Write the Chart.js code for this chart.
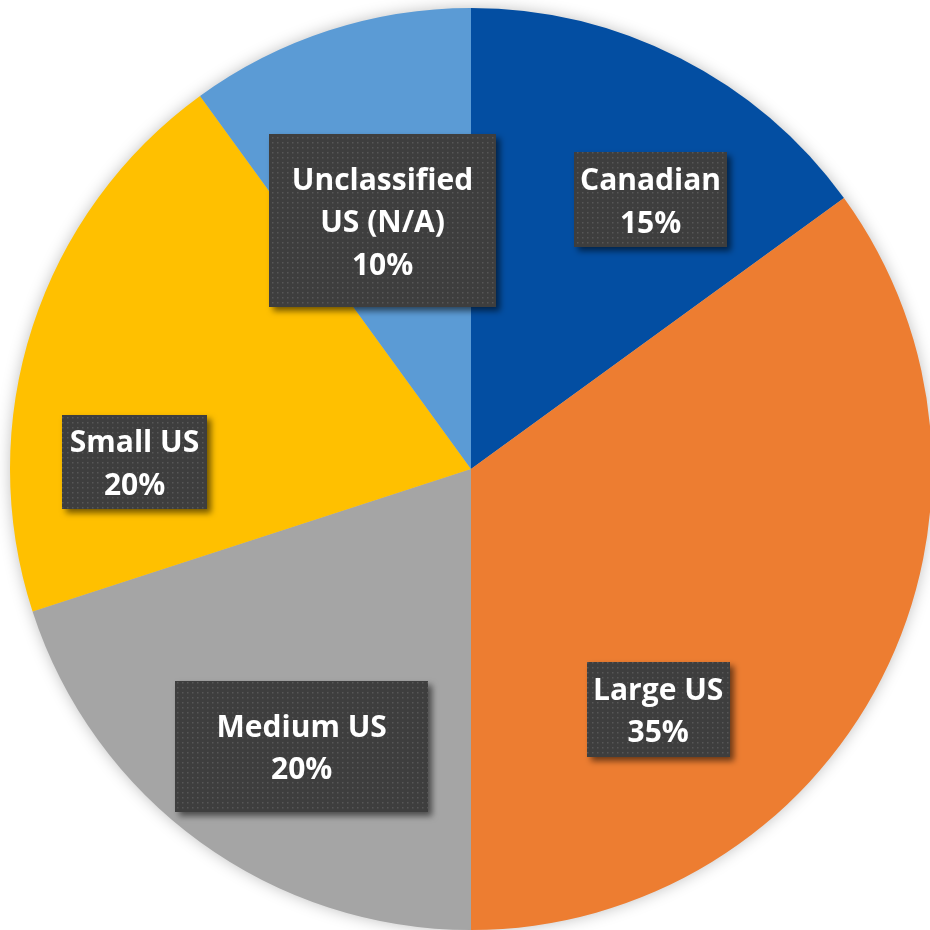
<!DOCTYPE html>
<html lang="en">
<head>
    <meta charset="UTF-8">
    <title>Share by carrier class</title>
    <script src="https://cdn.jsdelivr.net/npm/chart.js"></script>
    <style>
        html, body {
            margin: 0;
            padding: 0;
            background: #ffffff;
        }
        #wrap {
            width: 930px;
            height: 930px;
        }
    </style>
</head>
<body>
    <div id="wrap"><canvas id="pieChart" width="930" height="930"></canvas></div>

    <script>
        // Datos del gráfico
        const categories = ['Canadian', 'Large US', 'Medium US', 'Small US', ['Unclassified', 'US (N/A)']];
        const shares = [15, 35, 20, 20, 10];
        const sliceColors = ['#034EA2', '#ED7D31', '#A5A5A5', '#FFC000', '#5B9BD5'];

        // Where each label box sits: angle (deg, clockwise from top) and distance
        // as a fraction of the pie radius, plus the box size.
        const labelSpots = [
            { angle: 33.7, dist: 0.702, w: 153, h: 95 },
            { angle: 142.1, dist: 0.661, w: 143, h: 95 },
            { angle: 211.4, dist: 0.705, w: 253, h: 131 },
            { angle: 271.2, dist: 0.730, w: 145, h: 94 },
            { angle: 340.4, dist: 0.572, w: 227, h: 173 }
        ];

        // dotted dark fill for the label boxes
        const makeDots = (ctx) => {
            const tile = document.createElement('canvas');
            tile.width = 5;
            tile.height = 5;
            const t = tile.getContext('2d');
            t.fillStyle = '#3e3e3e';
            t.fillRect(0, 0, 5, 5);
            t.fillStyle = '#575757';
            t.fillRect(2, 2, 1.5, 1.5);
            return ctx.createPattern(tile, 'repeat');
        };

        // soft halo behind the whole pie
        const pieHalo = {
            id: 'pieHalo',
            beforeDatasetsDraw(chart) {
                const arc = chart.getDatasetMeta(0).data[0];
                if (!arc) return;
                const ctx = chart.ctx;
                ctx.save();
                ctx.shadowColor = 'rgba(0, 0, 0, 0.28)';
                ctx.shadowBlur = 16;
                ctx.fillStyle = '#bbbbbb';
                ctx.beginPath();
                ctx.arc(arc.x, arc.y, arc.outerRadius - 1, 0, Math.PI * 2);
                ctx.fill();
                ctx.restore();
            }
        };

        // dark boxes with category name and percentage
        const boxLabels = {
            id: 'boxLabels',
            afterDatasetsDraw(chart) {
                const meta = chart.getDatasetMeta(0);
                const ctx = chart.ctx;
                const total = shares.reduce((a, b) => a + b, 0);
                const dots = makeDots(ctx);
                const lineH = 42.5;

                meta.data.forEach((arc, i) => {
                    const spot = labelSpots[i];
                    const rad = spot.angle * Math.PI / 180;
                    const cx = arc.x + Math.sin(rad) * arc.outerRadius * spot.dist;
                    const cy = arc.y - Math.cos(rad) * arc.outerRadius * spot.dist;
                    const name = categories[i];
                    const lines = (Array.isArray(name) ? name : [name]).concat([Math.round(shares[i] / total * 100) + '%']);

                    ctx.save();
                    ctx.shadowColor = 'rgba(0, 0, 0, 0.55)';
                    ctx.shadowBlur = 6;
                    ctx.shadowOffsetX = 4;
                    ctx.shadowOffsetY = 4;
                    ctx.fillStyle = dots;
                    ctx.fillRect(Math.round(cx - spot.w / 2), Math.round(cy - spot.h / 2), spot.w, spot.h);
                    ctx.restore();

                    ctx.save();
                    ctx.fillStyle = '#ffffff';
                    ctx.font = 'bold 30px "Open Sans", Lato, sans-serif';
                    ctx.textAlign = 'center';
                    ctx.textBaseline = 'middle';
                    const top = cy - (lines.length - 1) * lineH / 2;
                    lines.forEach((txt, k) => ctx.fillText(txt, cx, top + k * lineH + 3));
                    ctx.restore();
                });
            }
        };

        new Chart(document.getElementById('pieChart'), {
            type: 'pie',
            data: {
                labels: categories,
                datasets: [{
                    data: shares,
                    backgroundColor: sliceColors,
                    borderWidth: 0,
                    radius: 461,
                    clip: false
                }]
            },
            options: {
                responsive: false,
                animation: false,
                events: [],
                layout: { padding: { left: 12, top: 8, right: 0, bottom: 0 } },
                plugins: {
                    legend: { display: false },
                    tooltip: { enabled: false }
                }
            },
            plugins: [pieHalo, boxLabels]
        });
    </script>
</body>
</html>
